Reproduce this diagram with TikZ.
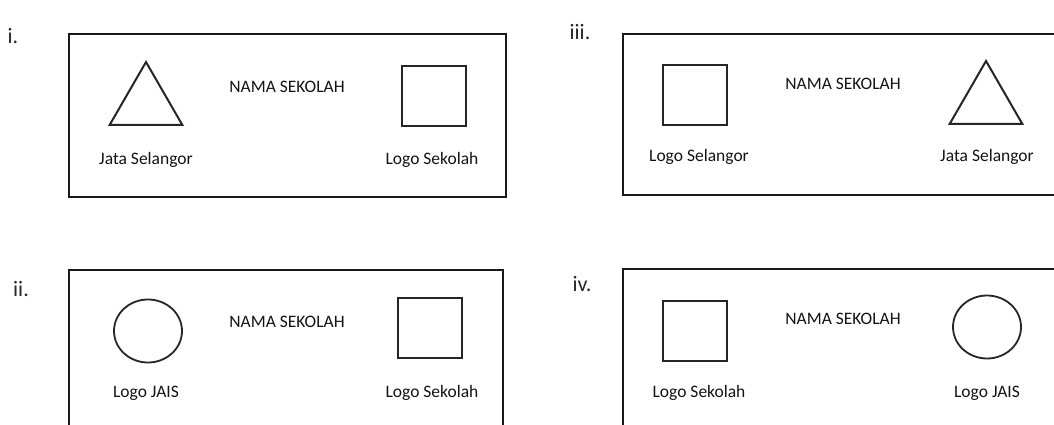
\documentclass[tikz,border=0pt]{standalone}
\usepackage{fontspec}
\setmainfont{Carlito}
\usetikzlibrary{shapes.geometric}
\begin{document}
\begin{tikzpicture}[x=1pt,y=-1pt,
  frame/.style={draw=black!90,line width=2.8pt},
  sqlogo/.style={draw=black!85,line width=2pt,rectangle,inner sep=0pt,minimum width=64pt,minimum height=60pt},
  trilogo/.style={draw=black!85,line width=2pt,regular polygon,regular polygon sides=3,inner sep=0pt,minimum size=84pt},
  circlogo/.style={draw=black!85,line width=1.8pt,ellipse,inner sep=0pt,minimum width=68pt,minimum height=63pt},
  txt/.style={font=\fontsize{17.5}{20}\selectfont,text=black!92,inner sep=0pt},
  num/.style={font=\fontsize{22}{24}\selectfont,text=black!85,inner sep=0pt}]
\useasboundingbox (0,0) rectangle (1054,425);
\clip (0,0) rectangle (1054,425);
\fill[white] (0,0) rectangle (1054,425);
% panel i
\node[num] (ni) at (13,36) {i.};
\node[frame,rectangle,inner sep=0pt,minimum width=437pt,minimum height=163pt] (bi) at (287.5,115.5) {};
\node[trilogo] (ti) at (146,104) {};
\node[sqlogo] (si) at (434,96) {};
\node[txt] (nami) at (287,87) {NAMA SEKOLAH};
\node[txt] (li1) at (146,160) {Jata Selangor};
\node[txt] (li2) at (432,160) {Logo Sekolah};
% panel iii
\node[num] (niii) at (580,32) {iii.};
\draw[frame] (1070,34) -- (623,34) -- (623,195) -- (1070,195);
\node[sqlogo] (siii) at (695,95.5) {};
\node[trilogo] (tiii) at (986,103) {};
\node[txt] (namiii) at (843,84) {NAMA SEKOLAH};
\node[txt] (liii1) at (699,157) {Logo Selangor};
\node[txt] (liii2) at (987,157) {Jata Selangor};
% panel ii
\node[num] (nii) at (21,289) {ii.};
\draw[frame] (69,440) -- (69,270) -- (503,270) -- (503,440);
\node[circlogo] (cii) at (148,331) {};
\node[sqlogo] (sii) at (429.5,327.5) {};
\node[txt] (namii) at (287,322) {NAMA SEKOLAH};
\node[txt] (lii1) at (146,393) {Logo JAIS};
\node[txt] (lii2) at (432,393) {Logo Sekolah};
% panel iv
\node[num] (niv) at (582,284) {iv.};
\draw[frame] (623,440) -- (623,269) -- (1070,269);
\node[sqlogo] (siv) at (695,331) {};
\node[circlogo] (civ) at (987,327) {};
\node[txt] (namiv) at (843,319) {NAMA SEKOLAH};
\node[txt] (liv1) at (699,393) {Logo Sekolah};
\node[txt] (liv2) at (987,393) {Logo JAIS};
\end{tikzpicture}
\end{document}
